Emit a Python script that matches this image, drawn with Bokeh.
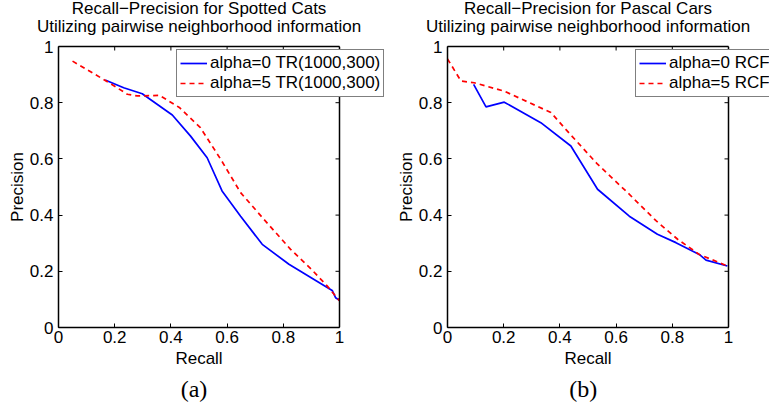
import math
from bokeh.plotting import figure
from bokeh.models import Range1d, LinearAxis, FixedTicker, Legend, LegendItem, Title, PrintfTickFormatter, Span
from bokeh.layouts import row
from bokeh.embed import file_html
from bokeh.resources import INLINE

# ---- data ----
cats_recall_a0 = [0.166, 0.232, 0.298, 0.405, 0.47, 0.529, 0.582, 0.648, 0.725, 0.82, 0.974, 0.986, 1.0]
cats_prec_a0 = [0.881, 0.853, 0.832, 0.756, 0.681, 0.604, 0.486, 0.396, 0.296, 0.225, 0.132, 0.106, 0.097]
cats_recall_a5 = [0.05, 0.15, 0.19, 0.245, 0.28, 0.36, 0.43, 0.505, 0.577, 0.648, 0.731, 0.826, 0.90, 0.956, 1.0]
cats_prec_a5 = [0.948, 0.889, 0.865, 0.830, 0.824, 0.826, 0.783, 0.711, 0.599, 0.480, 0.385, 0.278, 0.207, 0.148, 0.095]

cars_recall_a0 = [0.093, 0.137, 0.202, 0.332, 0.439, 0.534, 0.647, 0.747, 0.813, 0.896, 0.92, 0.996]
cars_prec_a0 = [0.865, 0.785, 0.802, 0.729, 0.646, 0.492, 0.396, 0.332, 0.302, 0.260, 0.240, 0.219]
cars_recall_a5 = [0.0, 0.048, 0.095, 0.202, 0.368, 0.421, 0.534, 0.641, 0.742, 0.819, 0.896, 0.996]
cars_prec_a5 = [0.956, 0.877, 0.871, 0.841, 0.765, 0.705, 0.581, 0.480, 0.380, 0.314, 0.260, 0.219]

tick_values = [0, 0.2, 0.4, 0.6, 0.8, 1]
tick_labels = ["0", "0.2", "0.4", "0.6", "0.8", "1"]

titles_a = ["Recall\u2212Precision for Spotted Cats", "Utilizing pairwise neighborhood information"]
titles_b = ["Recall\u2212Precision for Pascal Cars", "Utilizing pairwise neighborhood information"]
legend_a = ["alpha=0 TR(1000,300)", "alpha=5 TR(1000,300)"]
legend_b = ["alpha=0 RCF", "alpha=5 RCF"]

FONT = "Liberation Sans"
FS = "17px"
BOX = 281  # pixel size of the 0..1 box, both ways
HEIGHT = 411
TOP = 46


def style_axis(ax, ticks=True):
    ax.ticker = FixedTicker(ticks=tick_values if ticks else [])
    ax.formatter = PrintfTickFormatter(format="%g")
    if ticks:
        ax.major_label_overrides = dict(zip(tick_values, tick_labels))
    ax.major_tick_in = 4
    ax.major_tick_out = 0
    ax.minor_tick_line_color = None
    ax.axis_line_color = "black"
    ax.axis_line_width = 1.5
    ax.major_tick_line_color = "black"
    ax.major_tick_line_width = 1
    ax.major_label_text_font = FONT
    ax.major_label_text_font_size = FS
    ax.major_label_text_color = "black"


def make(titles, title_offsets, caption, cap_offset, xs0, ys0, xs5, ys5, labels, legend_xy, width, mbl):
    frame_w = width - mbl
    p = figure(width=width, height=HEIGHT, x_range=Range1d(0, frame_w / BOX), y_range=Range1d(0, 1),
               output_backend="svg", toolbar_location=None, title=None,
               min_border_left=mbl, min_border_right=0, min_border_top=TOP,
               min_border_bottom=HEIGHT - TOP - BOX,
               y_axis_label="Precision")
    p.grid.visible = False
    p.outline_line_color = None
    p.background_fill_color = "white"
    p.border_fill_color = "white"

    style_axis(p.xaxis[0])
    p.xaxis.bounds = (0, 1)
    p.xaxis.major_label_standoff = 3
    style_axis(p.yaxis[0])
    p.yaxis.major_label_standoff = 5
    p.yaxis.axis_label_standoff = 0
    p.yaxis.axis_label_text_font = FONT
    p.yaxis.axis_label_text_font_size = FS
    p.yaxis.axis_label_text_font_style = "normal"
    p.yaxis.axis_label_text_color = "black"

    # top edge of the box
    top = LinearAxis()
    style_axis(top, ticks=False)
    top.bounds = (0, 1)
    top.major_label_standoff = 0
    p.add_layout(top, "above")
    # right edge of the box
    p.add_layout(Span(location=1, dimension="height", line_color="black", line_width=1.5))
    # inward ticks on the top and right edges of the box
    p.ray(x=tick_values, y=[1] * len(tick_values), length=4, length_units="screen",
          angle=-math.pi / 2, line_color="black", line_width=1)
    p.ray(x=[1] * len(tick_values), y=tick_values, length=4, length_units="screen",
          angle=math.pi, line_color="black", line_width=1)

    for t, off, so in [(titles[1], title_offsets[1], 22), (titles[0], title_offsets[0], -28)]:
        p.add_layout(Title(text=t, align="left", offset=off, text_font=FONT, text_font_size=FS,
                           text_font_style="normal", text_color="black", standoff=so,
                           text_line_height=0.85), "above")

    p.add_layout(Title(text="Recall", align="left", offset=116.9, text_font=FONT, text_font_size=FS,
                       text_font_style="normal", text_color="black", standoff=3), "below")
    p.add_layout(Title(text=caption, align="left", offset=cap_offset, text_font="Liberation Serif",
                       text_font_size="24px", text_font_style="normal", text_color="black",
                       standoff=8), "below")

    r0 = p.line(xs0, ys0, line_color="#0000ff", line_width=1.7)
    r5 = p.line(xs5, ys5, line_color="#ff0000", line_width=1.7, line_dash="5 4")

    leg = Legend(items=[LegendItem(label=labels[0], renderers=[r0]),
                        LegendItem(label=labels[1], renderers=[r5])],
                 location=legend_xy, label_text_font=FONT, label_text_font_size=FS,
                 label_text_line_height=1.0,
                 label_text_color="black", border_line_color="black", border_line_width=1,
                 background_fill_color="white", background_fill_alpha=1.0,
                 padding=3, spacing=0, margin=0, glyph_width=27, glyph_height=18,
                 label_height=18, label_standoff=3)
    p.add_layout(leg, "center")
    return p


pa = make(titles_a, (13.2, -21.5), "(a)", 122.2, cats_recall_a0, cats_prec_a0, cats_recall_a5, cats_prec_a5,
          legend_a, (118, 230), 392, 58)
pb = make(titles_b, (16.5, -21.5), "(b)", 121.7, cars_recall_a0, cars_prec_a0, cars_recall_a5, cars_prec_a5,
          legend_b, (188, 230), 377, 55)

layout = row(pa, pb)
open("out.html", "w").write(file_html(layout, INLINE))
